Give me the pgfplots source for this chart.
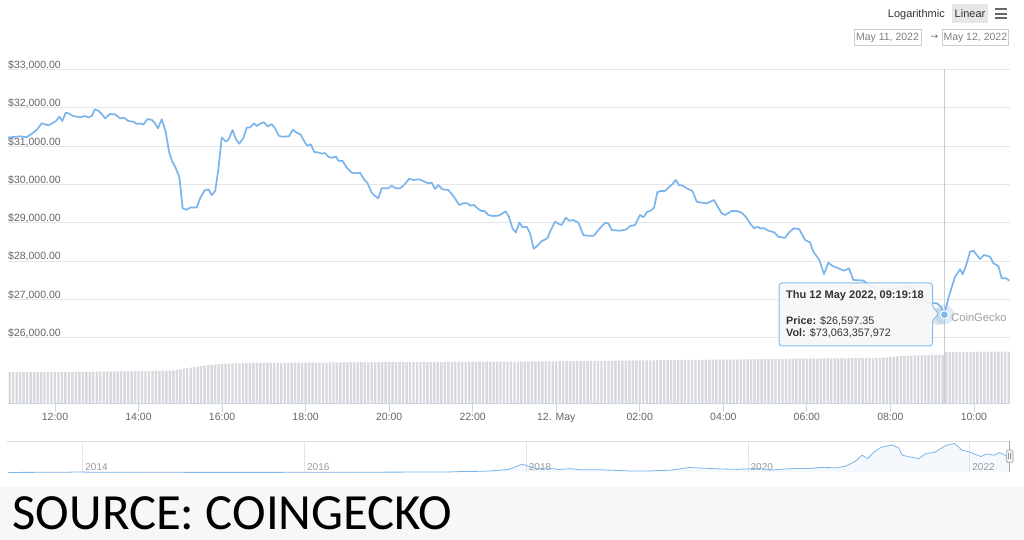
\documentclass[border=0pt]{standalone}
\usepackage{fontspec}
\setmainfont{Liberation Sans}
\newfontfamily\carlito{Carlito}
\newfontfamily\dejavu{DejaVu Sans}
\usepackage{pgfplots}
\usepackage{pgfplotstable}
\pgfplotsset{compat=1.18}
\definecolor{hcblue}{HTML}{7CB5EC}
\definecolor{gridc}{HTML}{E6E6E6}
\definecolor{axisc}{HTML}{CCD6EB}
\definecolor{labc}{HTML}{666666}
\definecolor{volc}{HTML}{D8D9DE}
\definecolor{txtc}{HTML}{333333}
\definecolor{bannerc}{HTML}{F7F7F7}
\definecolor{navlab}{HTML}{999999}

\pgfplotstableread{
h p
10.875 31225
11.162 31256
11.323 31230
11.481 31350
11.576 31439
11.682 31595
11.840 31543
11.960 31611
12.024 31655
12.103 31768
12.175 31655
12.256 31872
12.319 31856
12.438 31786
12.599 31752
12.718 31786
12.797 31752
12.879 31786
12.958 31961
13.037 31924
13.118 31838
13.197 31726
13.317 31838
13.437 31830
13.556 31726
13.652 31741
13.755 31655
13.875 31637
13.956 31577
14.035 31595
14.114 31559
14.215 31708
14.322 31681
14.394 31595
14.466 31465
14.555 31702
14.650 31376
14.730 30854
14.801 30611
14.885 30441
14.976 30193
15.057 29376
15.153 29339
15.244 29397
15.392 29397
15.484 29658
15.580 29841
15.670 29872
15.752 29723
15.836 29828
15.909 30376
15.991 31225
16.094 31115
16.159 31180
16.250 31420
16.333 31178
16.412 31063
16.508 31206
16.590 31480
16.669 31491
16.765 31595
16.836 31525
16.925 31595
17.004 31621
17.088 31517
17.188 31572
17.267 31465
17.356 31272
17.435 31245
17.603 31256
17.691 31428
17.787 31350
17.878 31308
17.986 31086
18.045 31008
18.124 31047
18.206 30846
18.304 30833
18.385 30802
18.457 30820
18.553 30715
18.625 30697
18.728 30723
18.783 30619
18.888 30611
18.985 30436
19.103 30305
19.183 30290
19.302 30305
19.398 30133
19.477 30044
19.582 29783
19.661 29697
19.740 29637
19.822 29898
19.980 29898
20.061 29966
20.157 29898
20.260 29898
20.355 29984
20.482 30149
20.578 30115
20.722 30133
20.817 30089
20.937 30029
21.018 30044
21.098 29880
21.177 29984
21.272 29872
21.416 29854
21.536 29697
21.679 29462
21.775 29506
21.871 29506
21.952 29444
22.031 29462
22.134 29358
22.215 29305
22.278 29305
22.374 29201
22.479 29175
22.613 29183
22.694 29227
22.785 29298
22.865 29157
22.953 28854
23.032 28744
23.116 29000
23.197 28880
23.293 28896
23.372 28723
23.461 28321
23.547 28397
23.652 28517
23.791 28593
23.851 28765
23.971 29026
24.074 28958
24.132 28940
24.227 29130
24.313 29052
24.409 29070
24.529 29000
24.648 28679
24.744 28661
24.904 28661
25.007 28809
25.168 29000
25.247 28984
25.328 28809
25.527 28791
25.687 28828
25.766 28914
25.886 28940
26.006 29201
26.085 29141
26.181 29287
26.262 29313
26.341 29392
26.420 29794
26.501 29828
26.604 29828
26.683 29914
26.779 30003
26.860 30115
26.939 29984
27.028 29966
27.124 29898
27.258 29828
27.363 29548
27.483 29522
27.602 29506
27.777 29593
27.842 29462
27.961 29245
28.040 29201
28.201 29305
28.320 29305
28.440 29261
28.536 29157
28.639 28984
28.735 28854
28.814 28896
28.878 28854
28.981 28854
29.077 28791
29.221 28749
29.316 28634
29.477 28603
29.556 28723
29.682 28854
29.819 28828
29.955 28548
30.075 28488
30.154 28243
30.298 28026
30.410 27660
30.513 27956
30.618 27869
30.753 27809
30.889 27747
31.009 27809
31.111 27504
31.351 27491
31.511 27347
31.751 27243
32.062 27269
32.349 27321
32.541 27287
32.708 27112
32.876 26896
33.115 26896
33.211 26799
33.291 26597
33.386 27026
33.547 27590
33.666 27783
33.731 27653
33.827 27940
33.906 28243
33.985 28269
34.145 28052
34.241 28157
34.385 28112
34.464 27940
34.584 27869
34.665 27548
34.768 27548
34.847 27486
}\pricetable

\pgfplotstableread{
y p
2013.33 130
2013.85 600
2013.93 1100
2014.10 700
2014.50 600
2014.90 350
2015.10 230
2015.60 250
2016.00 430
2016.50 650
2017.00 1000
2017.30 1300
2017.45 2500
2017.60 2700
2017.72 4400
2017.85 7500
2017.96 19000
2018.03 14000
2018.10 8500
2018.17 10500
2018.30 7000
2018.40 9000
2018.48 6500
2018.65 6500
2018.87 4200
2018.95 3300
2019.10 3600
2019.30 5300
2019.47 11500
2019.55 10500
2019.75 8200
2019.90 7200
2020.10 9500
2020.20 5500
2020.40 9200
2020.55 9300
2020.65 11500
2020.80 11000
2020.88 14500
2020.97 26000
2021.03 40000
2021.08 32000
2021.14 48000
2021.20 58000
2021.30 63500
2021.36 57000
2021.39 40000
2021.46 36000
2021.54 32000
2021.60 43000
2021.69 47000
2021.78 62000
2021.86 67000
2021.93 52000
2022.00 47000
2022.05 42000
2022.10 37000
2022.16 43000
2022.22 40000
2022.27 46000
2022.32 40000
2022.36 29000
}\navtable

\begin{document}
\begin{tikzpicture}[x=1pt,y=1pt]
\path[use as bounding box] (0,0) rectangle (1024,540);
\fill[white] (0,0) rectangle (1024,540);
\fill[bannerc] (0,0) rectangle (1024,53.3);

% ---------- volume axis ----------
\begin{axis}[at={(8pt,137pt)}, anchor=south west, scale only axis,
  width=1002pt, height=65.4pt,
  xmin=0.5, xmax=288.36, ymin=0, ymax=93.7,
  axis y line=none, axis x line=bottom,
  axis line style={-, draw=axisc, line width=0.8pt},
  xtick={14,38,...,278},
  xticklabels={12:00,14:00,16:00,18:00,20:00,22:00,12. May,02:00,04:00,06:00,08:00,10:00},
  tick align=outside, major tick length=9pt,
  tick style={axisc, line width=0.8pt},
  xticklabel style={anchor=base, inner sep=0pt, yshift=-9pt, font=\fontsize{10.5}{12}\selectfont, text=labc},
  ybar, bar width=2.4pt, bar shift=0pt]
\addplot[fill=volc, draw=none] coordinates {
(1,44.2) (2,44.5) (3,44.3) (4,44.6) (5,44.1) (6,44.4) (7,44.7) (8,44.2) (9,44.5) (10,44.3)
(11,44.6) (12,44.4) (13,44.8) (14,44.5) (15,44.3) (16,44.6) (17,44.9) (18,44.4) (19,44.7) (20,44.5)
(21,44.8) (22,44.6) (23,45.0) (24,44.7) (25,44.9) (26,45.1) (27,44.8) (28,45.0) (29,45.2) (30,44.9)
(31,45.3) (32,45.1) (33,45.5) (34,45.2) (35,45.6) (36,45.4) (37,45.8) (38,45.5) (39,45.7) (40,46.0)
(41,45.8) (42,46.1) (43,45.9) (44,46.2) (45,46.4) (46,46.1) (47,46.5) (48,46.8)
(49,47.5) (50,48.3) (51,49.2) (52,50.0) (53,50.8) (54,51.5) (55,52.2) (56,52.8)
(57,53.5) (58,54.1) (59,54.6) (60,55.0) (61,55.4) (62,55.8) (63,56.1) (64,56.4) (65,56.6) (66,56.8) (67,57.0) (68,57.2) (69,57.3) (70,57.4)
(71,57.5) (72,57.4) (73,57.6) (74,57.5) (75,57.7) (76,57.6) (77,57.8) (78,57.7) (79,57.6) (80,57.8)
(81,57.9) (82,57.7) (83,57.8) (84,58.0) (85,57.9) (86,57.8) (87,58.0) (88,58.1) (89,57.9) (90,58.0)
(91,58.1) (92,58.0) (93,58.2) (94,58.1) (95,58.0) (96,58.2) (97,58.3) (98,58.1) (99,58.2) (100,58.3)
(101,58.2) (102,58.4) (103,58.3) (104,58.2) (105,58.4) (106,58.5) (107,58.3) (108,58.4) (109,58.5) (110,58.4)
(111,58.6) (112,58.5) (113,58.4) (114,58.6) (115,58.7) (116,58.5) (117,58.6) (118,58.7) (119,58.6) (120,58.8)
(121,58.7) (122,58.6) (123,58.8) (124,58.9) (125,58.7) (126,58.8) (127,58.9) (128,58.8) (129,59.0) (130,58.9)
(131,58.8) (132,59.0) (133,59.1) (134,58.9) (135,59.0) (136,59.1) (137,59.0) (138,59.2) (139,59.1) (140,59.0)
(141,59.2) (142,59.3) (143,59.1) (144,59.2) (145,59.3) (146,59.2) (147,59.4) (148,59.3) (149,59.2) (150,59.4)
(151,59.5) (152,59.4) (153,59.6) (154,59.5) (155,59.7) (156,59.6) (157,59.8) (158,59.7) (159,59.9) (160,59.8)
(161,60.0) (162,59.9) (163,60.1) (164,60.0) (165,60.2) (166,60.1) (167,60.3) (168,60.2) (169,60.4) (170,60.3)
(171,60.5) (172,60.4) (173,60.6) (174,60.5) (175,60.7) (176,60.6) (177,60.8) (178,60.7) (179,60.9) (180,60.8)
(181,61.0) (182,60.9) (183,61.1) (184,61.0) (185,61.2) (186,61.1) (187,61.3) (188,61.2) (189,61.4) (190,61.3)
(191,61.5) (192,61.4) (193,61.6) (194,61.5) (195,61.7) (196,61.6) (197,61.8) (198,61.7) (199,61.9) (200,61.8)
(201,62.0) (202,61.9) (203,62.1) (204,62.0) (205,62.2) (206,62.1) (207,62.3) (208,62.2) (209,62.4) (210,62.3)
(211,62.5) (212,62.4) (213,62.6) (214,62.5) (215,62.7) (216,62.6) (217,62.8) (218,62.7) (219,62.9) (220,62.8)
(221,63.0) (222,63.1) (223,63.2) (224,63.1) (225,63.3) (226,63.4) (227,63.3) (228,63.5) (229,63.6) (230,63.5)
(231,63.7) (232,63.8) (233,63.7) (234,63.9) (235,64.0) (236,63.9) (237,64.0) (238,64.1) (239,64.0) (240,64.2)
(241,64.1) (242,64.2) (243,64.3) (244,64.2) (245,64.4) (246,64.3) (247,64.4) (248,64.5) (249,64.4) (250,64.5)
(251,64.7) (252,65.0) (253,65.4) (254,65.8) (255,66.3)
(256,66.8) (257,67.2) (258,67.5) (259,67.7) (260,67.9) (261,68.1) (262,68.2) (263,68.4) (264,68.5) (265,68.7) (266,68.7) (267,68.9) (268,68.8) (269,69.0)
(270,73.1) (271,73.0) (272,73.2) (273,73.1) (274,73.3) (275,73.2) (276,73.4) (277,73.3) (278,73.2) (279,73.4)
(280,73.5) (281,73.3) (282,73.4) (283,73.6) (284,73.5) (285,73.4) (286,73.6) (287,73.5) (288,73.4)
};
\end{axis}

% ---------- price axis ----------
\begin{axis}[at={(8pt,202.4pt)}, anchor=south west, scale only axis,
  width=1002pt, height=268.1pt,
  xmin=10.875, xmax=34.863, ymin=26000, ymax=33000,
  axis line style={draw=none}, xtick=\empty,
  scaled y ticks=false,
  ytick={26000,27000,...,33000},
  yticklabels={{\$26,000.00},{\$27,000.00},{\$28,000.00},{\$29,000.00},{\$30,000.00},{\$31,000.00},{\$32,000.00},{\$33,000.00}},
  ymajorgrids, grid style={gridc, line width=0.8pt},
  major tick length=0pt,
  yticklabel style={anchor=base west, inner sep=0pt, yshift=1pt, font=\fontsize{10.5}{12}\selectfont, text=labc},
  clip=false]
\draw[black!20, line width=0.9pt] (axis cs:33.291,33000) -- (axis cs:33.291,24292);
\fill[gray!35, opacity=0.6] (axis cs:33.14,26550) circle[radius=8.5pt];
\addplot[hcblue, line width=1.7pt, line join=round] table[x=h, y=p] {\pricetable};
\addplot[only marks, mark=*, mark size=9.5pt, color=hcblue, opacity=0.25] coordinates {(33.291,26597.35)};
\addplot[only marks, mark=*, mark size=4pt, fill=hcblue, draw=white, line width=1pt] coordinates {(33.291,26597.35)};
\end{axis}

% ---------- navigator ----------
\begin{axis}[at={(8pt,67.5pt)}, anchor=south west, scale only axis,
  width=1002pt, height=31.5pt,
  xmin=2013.326, xmax=2022.364, ymin=0, ymax=72750,
  axis line style={draw=none}, ytick=\empty,
  scaled x ticks=false, scaled y ticks=false,
  xtick={2014,2016,2018,2020,2022},
  xticklabels={2014,2016,2018,2020,2022},
  xmajorgrids, grid style={gridc, line width=0.8pt},
  major tick length=0pt,
  xticklabel style={anchor=base west, inner sep=0pt, xshift=2.5pt, yshift=2pt, font=\fontsize{10}{12}\selectfont, text=navlab}]
\addplot[draw=none, fill=hcblue, fill opacity=0.07] table[x=y, y=p] {\navtable} \closedcycle;
\addplot[hcblue, line width=0.8pt] table[x=y, y=p] {\navtable};
\end{axis}
\draw[black!13, line width=0.8pt] (6.7,99) -- (1010,99);
\draw[black!35, line width=0.8pt] (1009.7,99) -- (1009.7,68);
\fill[black!5, draw=black!40, line width=0.6pt, rounded corners=1.5pt] (1006.3,90) rectangle (1013,77.3);
\draw[black!40, line width=0.5pt] (1008.6,87) -- (1008.6,80.5) (1010.7,87) -- (1010.7,80.5);

% ---------- tooltip ----------
\fill[black!3, opacity=0.9, draw=hcblue, line width=1pt, rounded corners=3pt]
  (779,257) -- (932.5,257) -- (932.5,233) -- (939,226) -- (932.5,220) -- (932.5,194) -- (779,194) -- cycle;
\node[anchor=base west, inner sep=0pt, font=\bfseries\fontsize{11}{13}\selectfont, text=txtc] at (786,241) {Thu 12 May 2022, 09:19:18};
\node[anchor=base west, inner sep=0pt, font=\fontsize{10.8}{13}\selectfont, text=txtc] at (786,215.5) {\textbf{Price:} \$26,597.35};
\node[anchor=base west, inner sep=0pt, font=\fontsize{10.8}{13}\selectfont, text=txtc] at (786,203.5) {\textbf{Vol:} \$73,063,357,972};
\node[anchor=west, inner sep=0pt, font=\fontsize{11.2}{13}\selectfont, text=black!38] at (951,222) {CoinGecko};

% ---------- top controls ----------
\node[anchor=base west, inner sep=0pt, font=\fontsize{11}{13}\selectfont, text=txtc] at (887.7,522) {Logarithmic};
\fill[gridc] (951.7,536) rectangle (988.3,517.3);
\node[anchor=base, inner sep=0pt, font=\fontsize{11}{13}\selectfont, text=txtc] at (970,522) {Linear};
\draw[labc, line width=2pt] (995,530.5) -- (1007,530.5) (995,526.2) -- (1007,526.2) (995,521.9) -- (1007,521.9);
\draw[black!20, line width=0.8pt] (854,510.7) rectangle (921,495);
\node[anchor=base, inner sep=0pt, font=\fontsize{10.5}{12}\selectfont, text=black!50] at (887.5,499) {May 11, 2022};
\node[inner sep=0pt, font=\dejavu\fontsize{9}{10}\selectfont, text=labc] at (934.5,503) {→};
\draw[black!20, line width=0.8pt] (942.3,510.7) rectangle (1008.3,495);
\node[anchor=base, inner sep=0pt, font=\fontsize{10.5}{12}\selectfont, text=black!50] at (975.3,499) {May 12, 2022};

% ---------- banner ----------
\node[anchor=base west, inner sep=0pt, font=\carlito\fontsize{50.7}{60}\selectfont, text=black] at (12.5,10) {SOURCE: COINGECKO};
\end{tikzpicture}
\end{document}
